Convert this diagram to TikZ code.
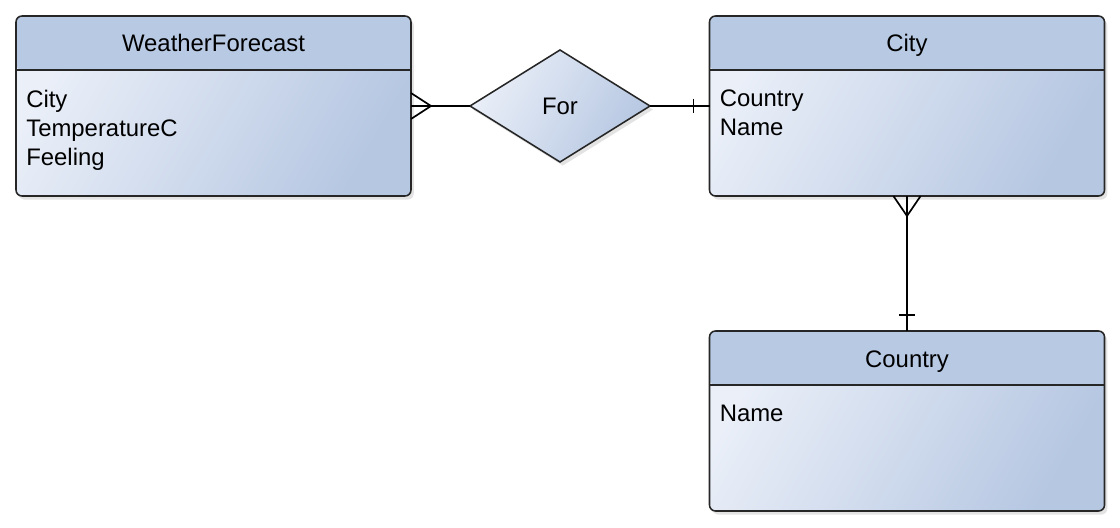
\documentclass[tikz,border=0pt]{standalone}
\usepackage{fontspec}
\setmainfont{Liberation Sans}
\usepackage{xcolor}
\usetikzlibrary{shapes.geometric}
\usetikzlibrary{shadows}
\usetikzlibrary{calc}

\definecolor{headblue}{RGB}{184,201,227}
\definecolor{bodylite}{RGB}{234,239,248}
\definecolor{bodydark}{RGB}{182,199,226}

\tikzset{
  entity/.style={draw=black!85, line width=1.1pt, rounded corners=0.15cm,
    minimum width=9.875cm, minimum height=4.5cm, inner sep=0pt, outer sep=0pt,
    drop shadow={shadow xshift=0.07cm, shadow yshift=-0.09cm, opacity=0.22},
    path picture={
      \shade[top color=bodylite, bottom color=bodydark, shading angle=60]
        (path picture bounding box.south west) rectangle (path picture bounding box.north east);
      \fill[headblue] (path picture bounding box.north west) rectangle ([yshift=-1.35cm]path picture bounding box.north east);
      \draw[line width=1.1pt, black!85] ([yshift=-1.35cm]path picture bounding box.north west) -- ([yshift=-1.35cm]path picture bounding box.north east);
    }},
  relship/.style={diamond, draw=black!85, line width=1.1pt, minimum width=4.5cm,
    minimum height=2.8cm, inner sep=0pt, outer sep=0pt,
    top color=bodylite, bottom color=bodydark, shading angle=60,
    drop shadow={shadow xshift=0.07cm, shadow yshift=-0.09cm, opacity=0.22}},
  title/.style={anchor=base, inner sep=0pt, font=\fontsize{17}{20.6}\selectfont},
  attrs/.style={anchor=north west, inner sep=0pt, align=left, font=\fontsize{17}{20.6}\selectfont},
  conn/.style={draw=black, line width=1.2pt}
}

\begin{document}
\begin{tikzpicture}
\useasboundingbox (0,0) rectangle (28,-13.2);

% entities
\node[entity] (wf) at (5.3375,-2.65) {};
\node[entity] (city) at (22.675,-2.65) {};
\node[entity] (country) at (22.675,-10.525) {};

\node[title] (wf-title) at ([yshift=-0.9cm]wf.north) {WeatherForecast};
\node[title] (city-title) at ([yshift=-0.9cm]city.north) {City};
\node[title] (country-title) at ([yshift=-0.9cm]country.north) {Country};

\node[attrs] (wf-attrs) at ([shift={(0.25,-1.85)}]wf.north west) {City\\TemperatureC\\Feeling};
\node[attrs] (city-attrs) at ([shift={(0.25,-1.85)}]city.north west) {Country\\Name};
\node[attrs] (country-attrs) at ([shift={(0.25,-1.85)}]country.north west) {Name};

% relationship
\node[relship, font=\fontsize{17}{20.6}\selectfont] (for) at (14,-2.65) {For};

% connectors
\draw[conn] (wf.east) -- (for.west);
\draw[conn] ([yshift=0.325cm]wf.east) -- ([xshift=0.5cm]wf.east) -- ([yshift=-0.325cm]wf.east);
\draw[conn] (for.east) -- (city.west);
\draw[conn] ([shift={(-0.4,0.175)}]city.west) -- ++(0,-0.35);

\draw[conn] (city.south) -- (country.north);
\draw[conn] ([xshift=-0.34cm]city.south) -- ([yshift=-0.5cm]city.south) -- ([xshift=0.34cm]city.south);
\draw[conn] ([shift={(-0.2,0.4)}]country.north) -- ++(0.4,0);
\end{tikzpicture}
\end{document}
